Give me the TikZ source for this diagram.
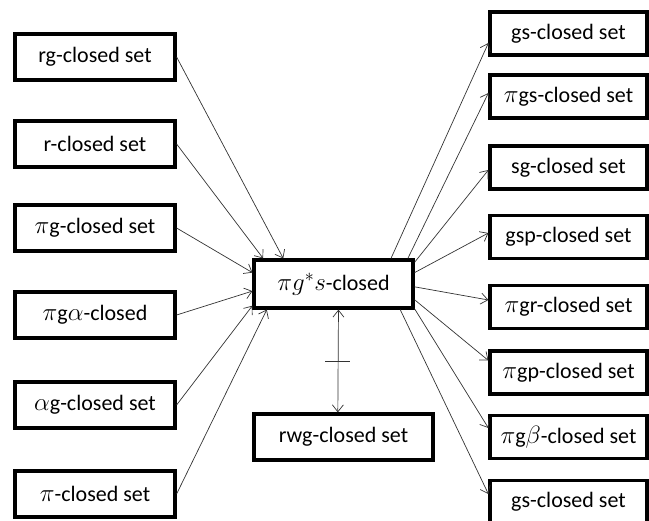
\RequirePackage{fix-cm}
\documentclass[tikz,border=0pt]{standalone}
\usepackage{fontspec}
\setmainfont{Carlito}
\usetikzlibrary{arrows.meta}
\DeclareMathSizes{22}{25}{18}{14}

\tikzset{
	setbox/.style={draw,line width=3.2pt,inner sep=0pt,minimum width=160pt,minimum height=46pt,font=\fontsize{22}{26}\selectfont},
	imp/.style={line width=.7pt,draw=black!80,-{Straight Barb[length=7pt,width=11pt]}},
}

\begin{document}
\begin{tikzpicture}[x=1pt,y=-1pt]
	\useasboundingbox (0,0) rectangle (649,521);
	
	\node[setbox,minimum width=159pt,minimum height=48pt] (c) at (333.5,284) {$\pi g^{*}s$-closed};
	\node[setbox,minimum width=179pt] (rwg) at (343.5,437) {rwg-closed set};
	
	\foreach \y/\n/\t in {57/l1/rg-closed set,144/l2/r-closed set,228/l3/$\pi$g-closed set,315/l4/$\pi$g$\alpha$-closed,405/l5/$\alpha$g-closed set,494/l6/$\pi$-closed set}
		\node[setbox] (\n) at (95,\y) {\t};
	
	\foreach \y/\n/\t in {33.5/r1/gs-closed set,96.5/r2/$\pi$gs-closed set,167.5/r3/sg-closed set,237/r4/gsp-closed set,307/r5/$\pi$gr-closed set,372.5/r6/$\pi$gp-closed set,437/r7/$\pi$g$\beta$-closed set,502/r8/gs-closed set}
		\node[setbox,minimum width=157pt,minimum height=43pt] (\n) at (568.5,\y) {\t};
	
	% into the middle box
	\foreach \n/\a in {l1/153.7,l2/160.7,l3/172.8,l4/185,l5/195.5,l6/201.6}
		\draw[imp] (\n.east) -- (c.\a);
	
	% out of the middle box
	\foreach \a/\n/\s in {24.2/r1/-9.5,19.8/r2/3.5,15.5/r3/-2.5,8.6/r4/4,-2.9/r5/7,-11.4/r6/12,-17.9/r7/9,-21/r8/8}
		\draw[imp] (c.\a) -- ([yshift=\s pt]\n.west);
	
	\draw[imp,{Straight Barb[length=7pt,width=11pt]}-{Straight Barb[length=7pt,width=11pt]}] (c.-79.4) -- coordinate[midway] (tk) (rwg.103.4);
	\draw[line width=.7pt,black!80] ([xshift=-13pt]tk) -- ([xshift=12pt]tk);
\end{tikzpicture}
\end{document}
